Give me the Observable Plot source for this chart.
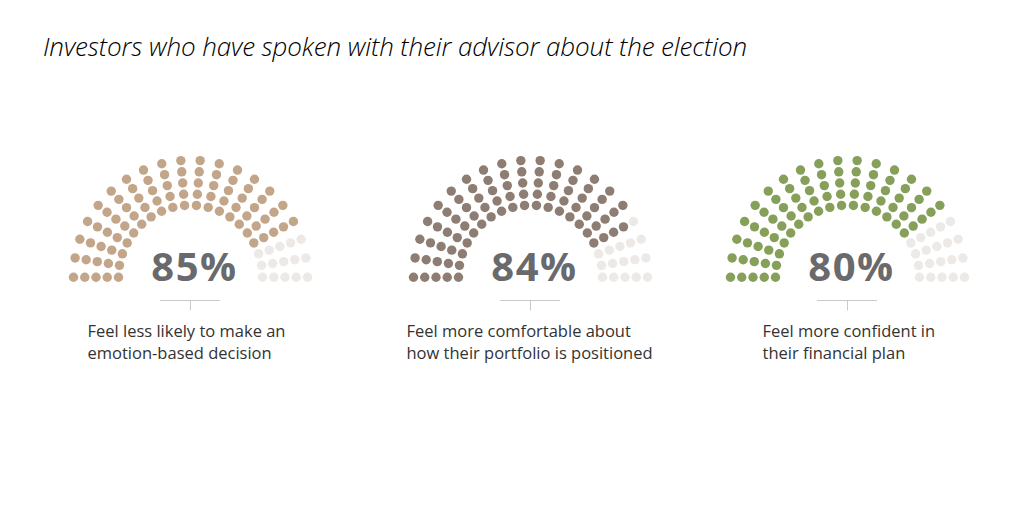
<!DOCTYPE html>
<html>
<head>
<meta charset="utf-8">
<script src="https://cdn.jsdelivr.net/npm/d3@7"></script>
<script src="https://cdn.jsdelivr.net/npm/@observablehq/plot@0.6"></script>
<style>
  html, body { margin: 0; padding: 0; background: #fff; }
  #wrap { position: relative; width: 1024px; height: 512px; overflow: hidden; }
  #title { position: absolute; left: 43px; top: 33px; font-family: "Open Sans", sans-serif; font-style: italic; font-weight: 300; font-size: 26px; color: #000; white-space: nowrap; line-height: 1; letter-spacing: -0.1px; }
  #chart { position: absolute; left: 0; top: 80px; }
  #chart .pct text { letter-spacing: 1.5px; }
</style>
</head>
<body>
<div id="wrap">
  <div id="title">Investors who have spoken with their advisor about the election</div>
  <div id="chart"></div>
</div>
<script>
// ---- data ----
const categories = [
  "Feel less likely to make an\nemotion-based decision",
  "Feel more comfortable about\nhow their portfolio is positioned",
  "Feel more confident in\ntheir financial plan"
];
const values = [85, 84, 80];
const percentLabels = ["85%", "84%", "80%"];
const seriesColors = ["#c3a689", "#8d7d72", "#86a05a"];
const restColor = "#ede9e7";

// ---- layout ----
const W = 1024, H = 432;
const centers = [190, 530, 847];
const cy = 196.7;
const spokes = 20, rings = 5;
const innerR = 72, ringStep = 11.25;
const labelX = [87, 406, 762];

const dots = [];
categories.forEach((c, i) => {
  for (let s = 0; s < spokes; s++) {
    const a = Math.PI - s * Math.PI / (spokes - 1);
    for (let k = 0; k < rings; k++) {
      const idx = s * rings + k;
      const r = innerR + k * ringStep;
      dots.push({
        chart: i,
        x: centers[i] + r * Math.cos(a),
        y: cy - r * Math.sin(a),
        fill: idx < values[i] ? seriesColors[i] : restColor
      });
    }
  }
});

const pct = categories.map((c, i) => ({x: centers[i] + 4, y: cy + 4, t: percentLabels[i]}));
const labs = categories.map((c, i) => ({x: labelX[i], y: 278, t: c}));
const hl = categories.map((c, i) => ({x1: centers[i] - 30, x2: centers[i] + 30, y: 220}));
const vl = categories.map((c, i) => ({x: centers[i], y1: 220, y2: 230.5}));

const plot = Plot.plot({
  width: W, height: H,
  margin: 0,
  x: {domain: [0, W], range: [0, W], axis: null},
  y: {domain: [0, H], range: [0, H], axis: null},
  marks: [
    Plot.dot(dots, {x: "x", y: "y", r: 4.7, fill: "fill", stroke: null}),
    Plot.ruleY(hl, {x1: "x1", x2: "x2", y: "y", stroke: "#c9c9c9", strokeWidth: 1}),
    Plot.ruleX(vl, {x: "x", y1: "y1", y2: "y2", stroke: "#c9c9c9", strokeWidth: 1}),
    Plot.text(pct, {x: "x", y: "y", text: "t", textAnchor: "middle", lineAnchor: "bottom",
      fontSize: 40, fontWeight: "bold", fill: "#6a6a6d", fontFamily: "Open Sans", className: "pct"}),
    Plot.text(labs, {x: "x", y: "y", text: "t", textAnchor: "start", lineAnchor: "bottom",
      fontSize: 16.5, lineHeight: 1.33, fill: "#333", fontFamily: "Open Sans"})
  ]
});
document.getElementById("chart").appendChild(plot);
</script>
</body>
</html>
